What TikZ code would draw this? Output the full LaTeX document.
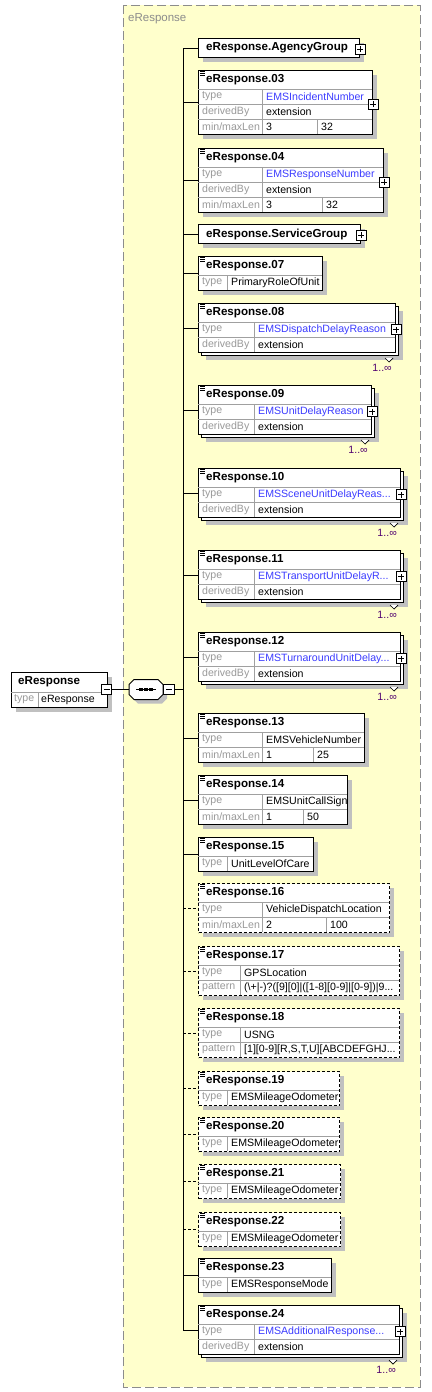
\documentclass[tikz,border=0pt]{standalone}
\usepackage{fontspec}
\setmainfont{Liberation Sans}
\usetikzlibrary{shadows}

\definecolor{panelyellow}{HTML}{FFFFCC}
\definecolor{panelgray}{HTML}{8C8C8C}
\definecolor{shadowgray}{HTML}{C0C0C0}
\definecolor{linegray}{HTML}{A0A0A0}
\definecolor{labelgray}{HTML}{999999}
\definecolor{linkblue}{HTML}{3C3CFF}
\definecolor{occpurple}{HTML}{500070}

\newcommand{\regfont}{\fontsize{10.6}{12}\selectfont}
\newcommand{\ttlfont}{\fontsize{11.6}{13}\selectfont\bfseries}

\tikzset{
  shade/.style={drop shadow={shadow xshift=4pt, shadow yshift=-4pt, fill=shadowgray, opacity=1}},
  frontbox/.style={draw, fill=white, line width=1pt, inner sep=0pt, anchor=north west},
  elbox/.style={frontbox, shade},
  optbox/.style={elbox, dash pattern=on 3pt off 2pt},
  rowline/.style={draw=linegray, line width=0.8pt},
  lbl/.style={anchor=west, text=labelgray, font=\regfont, inner sep=0pt},
  val/.style={anchor=west, font=\regfont, inner sep=0pt},
  link/.style={val, text=linkblue},
  ttl/.style={anchor=west, font=\ttlfont, inner sep=0pt},
  occ/.style={anchor=east, text=occpurple, font=\regfont, inner sep=0pt},
  conn/.style={line width=1pt},
  optconn/.style={conn, dash pattern=on 3pt off 2pt},
  plus/.style={draw, fill=white, line width=0.8pt, minimum size=10pt, inner sep=0pt,
    path picture={\draw[line width=1pt]
      ([xshift=-3pt]path picture bounding box.center) -- ([xshift=3pt]path picture bounding box.center)
      ([yshift=-3pt]path picture bounding box.center) -- ([yshift=3pt]path picture bounding box.center);}},
  minus/.style={draw, fill=white, line width=0.8pt, minimum size=10.5pt, inner sep=0pt,
    path picture={\draw[line width=1pt]
      ([xshift=-3pt]path picture bounding box.center) -- ([xshift=3pt]path picture bounding box.center);}},
  seqbox/.style={inner sep=0pt, minimum width=34pt, minimum height=20pt}
}

% name, style, top, right, bottom, title
\newcommand{\elbox}[6]{%
  \node[#2, minimum width={#4pt-198pt}, minimum height={#5pt-#3pt}] (#1) at (198,#3) {};
  \node[ttl] (#1t) at (206,#3+10) {#6};
}
% name, top, right, bottom, title
\newcommand{\multibox}[5]{%
  \node[elbox, minimum width={#3pt-198pt}, minimum height={#4pt-#2pt}] (#1b) at (201,#2+3) {};
  \elbox{#1}{frontbox}{#2}{#3}{#4}{#5}
}
\newcommand{\docmark}[1]{%
  \foreach \k in {1.5,3.5,5.5} \draw[line width=0.8pt] (200,#1+\k) -- (204.5,#1+\k);
}
% name, row, top, col, right, label, value, value style
\newcommand{\elrow}[8]{%
  \draw[rowline] (198,#3) -- (#5,#3) (#4,#3) -- (#4,#3+15);
  \node[lbl] (#1l#2) at (202,#3+7.5) {#6};
  \node[#8] (#1v#2) at (#4+4,#3+7.5) {#7};
}
% name, top, col, col2, right, min, max
\newcommand{\lenrow}[7]{%
  \elrow{#1}{3}{#2}{#3}{#5}{min/maxLen}{#6}{val}
  \draw[rowline] (#4,#2) -- (#4,#2+15);
  \node[val] (#1m) at (#4+4,#2+7.5) {#7};
}
% name, right, bottom
\newcommand{\occurs}[3]{%
  \draw[fill=white, line width=0.7pt] (#2-13,#3+3) -- (#2-9,#3+7) -- (#2-5,#3+3);
  \node[occ] (#1o) at (#2-6,#3+13) {1..∞};
}
% chamfered outline of the sequence box, shifted by #1,#2
\newcommand{\seqpath}[2]{(134+#1,679.5+#2) -- (158+#1,679.5+#2) -- (163+#1,684.5+#2) -- (163+#1,694.5+#2)
  -- (158+#1,699.5+#2) -- (134+#1,699.5+#2) -- (129+#1,694.5+#2) -- (129+#1,684.5+#2) -- cycle}

\begin{document}
\begin{tikzpicture}[x=1pt, y=-1pt]
\useasboundingbox (0,0) rectangle (431,1392);

\draw[fill=panelyellow, draw=panelgray, line width=1pt, dash pattern=on 9pt off 4pt] (123,5) rectangle (420,1387);
\node[anchor=west, text=panelgray, font=\fontsize{11.5}{13}\selectfont, inner sep=0pt] (panelt) at (128,18.5) {eResponse};

% root element and sequence
\node[elbox, minimum width=96pt, minimum height=35pt] (root) at (11,672) {};
\node[ttl] (roott) at (18,682) {eResponse};
\draw[rowline] (11,692) -- (107,692) (38,692) -- (38,707);
\node[lbl] (rootl1) at (14,699.5) {type};
\node[val] (rootv1) at (41,699.5) {eResponse};
\node[minus] (rootmin) at (106.5,689.5) {};

\fill[shadowgray] \seqpath{4}{4};
\draw[fill=white, line width=1pt] \seqpath{0}{0};
\node[seqbox] (seq) at (146,689.5) {};
\draw[line width=1pt] ([xshift=-10pt]seq.center) -- ([xshift=10pt]seq.center);
\foreach \dx in {-5,0,5} \fill ([xshift=\dx pt]seq.center) +(-1.75,-1.75) rectangle +(1.75,1.75);
\node[minus] (seqmin) at (169,689.5) {};
\coordinate (bus) at (183,689.5);

% children
\elbox{agency}{elbox}{38}{359}{57}{eResponse.AgencyGroup}
\node[plus] (pagency) at ([yshift=-1pt]agency.east) {};

\elbox{r03}{elbox}{70}{372}{134}{eResponse.03}\docmark{70}
\elrow{r03}{1}{89}{262}{372}{type}{EMSIncidentNumber}{link}
\elrow{r03}{2}{104}{262}{372}{derivedBy}{extension}{val}
\lenrow{r03}{119}{262}{317}{372}{3}{32}
\node[plus] (p03) at ([yshift=-1.5pt]r03.east) {};

\elbox{r04}{elbox}{148}{383}{212}{eResponse.04}\docmark{148}
\elrow{r04}{1}{167}{262}{383}{type}{EMSResponseNumber}{link}
\elrow{r04}{2}{182}{262}{383}{derivedBy}{extension}{val}
\lenrow{r04}{197}{262}{322}{383}{3}{32}
\node[plus] (p04) at ([yshift=-1.5pt]r04.east) {};

\elbox{service}{elbox}{224}{360}{243}{eResponse.ServiceGroup}
\node[plus] (pservice) at ([yshift=-1pt]service.east) {};

\elbox{r07}{elbox}{256}{322}{290}{eResponse.07}\docmark{256}
\elrow{r07}{1}{275}{227}{322}{type}{PrimaryRoleOfUnit}{val}

\multibox{r08}{303}{395}{352}{eResponse.08}\docmark{303}
\elrow{r08}{1}{322}{254}{395}{type}{EMSDispatchDelayReason}{link}
\elrow{r08}{2}{337}{254}{395}{derivedBy}{extension}{val}
\node[plus] (p08) at ([yshift=-1.5pt]r08.east) {};
\occurs{r08}{398}{355}

\multibox{r09}{385}{371}{434}{eResponse.09}\docmark{385}
\elrow{r09}{1}{404}{254}{371}{type}{EMSUnitDelayReason}{link}
\elrow{r09}{2}{419}{254}{371}{derivedBy}{extension}{val}
\node[plus] (p09) at ([yshift=-1.5pt]r09.east) {};
\occurs{r09}{374}{437}

\multibox{r10}{468}{400}{517}{eResponse.10}\docmark{468}
\elrow{r10}{1}{487}{254}{400}{type}{EMSSceneUnitDelayReas...}{link}
\elrow{r10}{2}{502}{254}{400}{derivedBy}{extension}{val}
\node[plus] (p10) at ([yshift=-1.5pt]r10.east) {};
\occurs{r10}{403}{520}

\multibox{r11}{550}{400}{599}{eResponse.11}\docmark{550}
\elrow{r11}{1}{569}{254}{400}{type}{EMSTransportUnitDelayR...}{link}
\elrow{r11}{2}{584}{254}{400}{derivedBy}{extension}{val}
\node[plus] (p11) at ([yshift=-1.5pt]r11.east) {};
\occurs{r11}{403}{602}

\multibox{r12}{632}{400}{681}{eResponse.12}\docmark{632}
\elrow{r12}{1}{651}{254}{400}{type}{EMSTurnaroundUnitDelay...}{link}
\elrow{r12}{2}{666}{254}{400}{derivedBy}{extension}{val}
\node[plus] (p12) at ([yshift=-1.5pt]r12.east) {};
\occurs{r12}{403}{684}

\elbox{r13}{elbox}{713}{364}{762}{eResponse.13}\docmark{713}
\elrow{r13}{1}{732}{262}{364}{type}{EMSVehicleNumber}{val}
\lenrow{r13}{747}{262}{313}{364}{1}{25}

\elbox{r14}{elbox}{775}{347}{824}{eResponse.14}\docmark{775}
\elrow{r14}{1}{794}{262}{347}{type}{EMSUnitCallSign}{val}
\lenrow{r14}{809}{262}{303}{347}{1}{50}

\elbox{r15}{elbox}{837}{313}{871}{eResponse.15}\docmark{837}
\elrow{r15}{1}{856}{227}{313}{type}{UnitLevelOfCare}{val}

\elbox{r16}{optbox}{883}{389}{932}{eResponse.16}\docmark{883}
\elrow{r16}{1}{902}{262}{389}{type}{VehicleDispatchLocation}{val}
\lenrow{r16}{917}{262}{326}{389}{2}{100}

\elbox{r17}{optbox}{946}{399}{995}{eResponse.17}\docmark{946}
\elrow{r17}{1}{965}{240}{399}{type}{GPSLocation}{val}
\elrow{r17}{2}{980}{240}{399}{pattern}{(\textbackslash+|-)?([9][0]|([1-8][0-9]|[0-9])|9...}{val}

\elbox{r18}{optbox}{1008}{399}{1057}{eResponse.18}\docmark{1008}
\elrow{r18}{1}{1027}{240}{399}{type}{USNG}{val}
\elrow{r18}{2}{1042}{240}{399}{pattern}{[1][0-9][R,S,T,U][ABCDEFGHJ...}{val}

\elbox{r19}{optbox}{1071}{339}{1105}{eResponse.19}\docmark{1071}
\elrow{r19}{1}{1090}{227}{339}{type}{EMSMileageOdometer}{val}

\elbox{r20}{optbox}{1117}{339}{1151}{eResponse.20}\docmark{1117}
\elrow{r20}{1}{1136}{227}{339}{type}{EMSMileageOdometer}{val}

\elbox{r21}{optbox}{1164}{340}{1198}{eResponse.21}\docmark{1164}
\elrow{r21}{1}{1183}{227}{340}{type}{EMSMileageOdometer}{val}

\elbox{r22}{optbox}{1212}{340}{1246}{eResponse.22}\docmark{1212}
\elrow{r22}{1}{1231}{227}{340}{type}{EMSMileageOdometer}{val}

\elbox{r23}{elbox}{1258}{331}{1292}{eResponse.23}\docmark{1258}
\elrow{r23}{1}{1277}{227}{331}{type}{EMSResponseMode}{val}

\multibox{r24}{1305}{399}{1354}{eResponse.24}\docmark{1305}
\elrow{r24}{1}{1324}{254}{399}{type}{EMSAdditionalResponse...}{link}
\elrow{r24}{2}{1339}{254}{399}{derivedBy}{extension}{val}
\node[plus] (p24) at ([yshift=-1.5pt]r24.east) {};
\occurs{r24}{402}{1357}

% connectors
\draw[conn] (rootmin) -- (seq);
\draw[conn] (seqmin) -- (bus);
\draw[conn] (agency.west -| bus) -- (r24.west -| bus);
\foreach \n in {agency,r03,r04,service,r07,r08,r09,r10,r11,r12,r13,r14,r15,r23,r24}
  \draw[conn] (\n.west -| bus) -- (\n.west);
\foreach \n in {r16,r17,r18,r19,r20,r21,r22}
  \draw[optconn] (\n.west -| bus) -- (\n.west);

\end{tikzpicture}
\end{document}
